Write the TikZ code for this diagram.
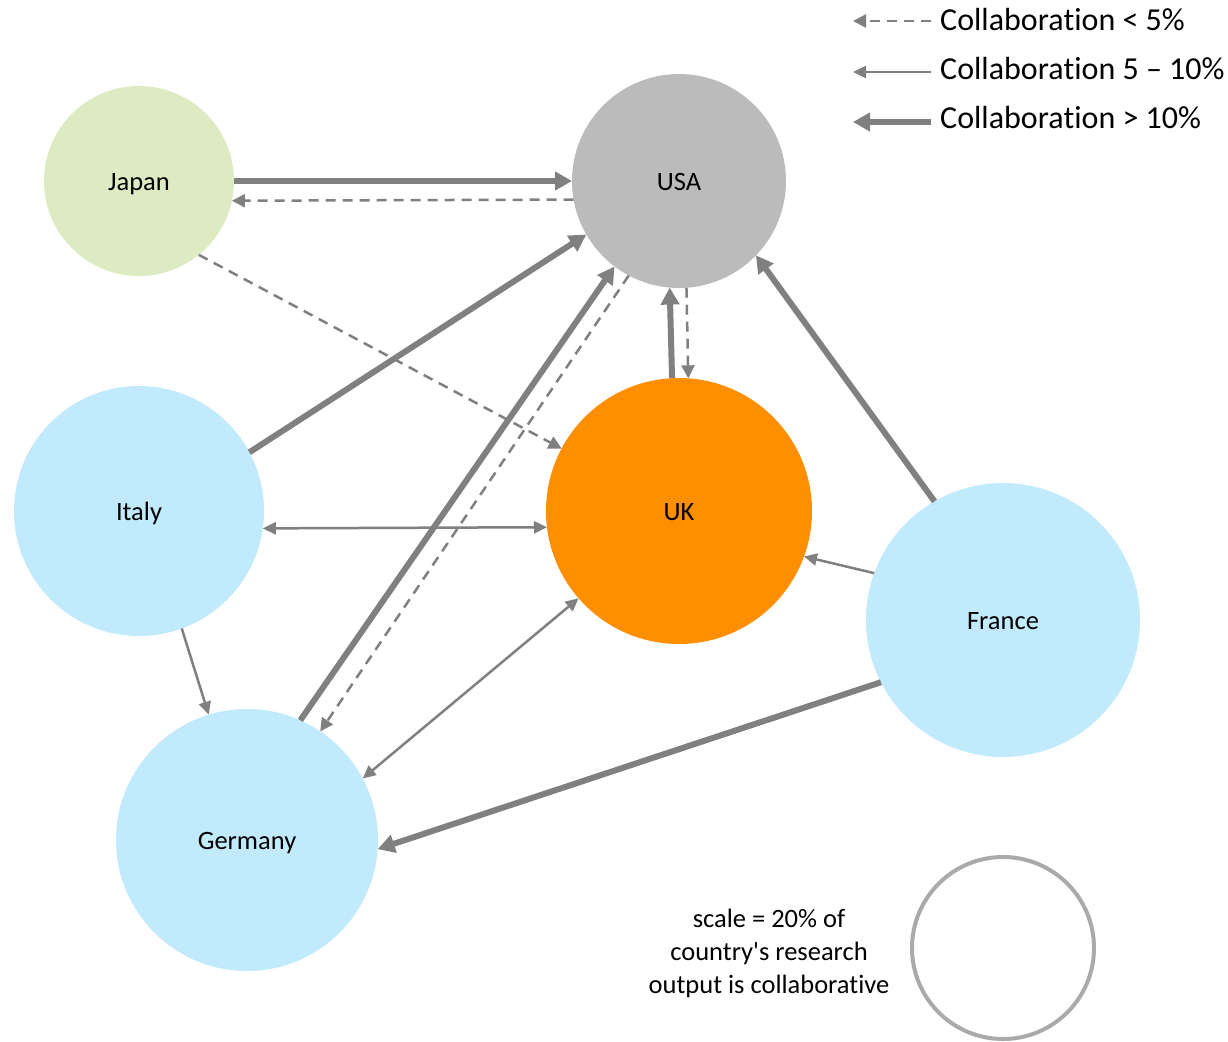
\documentclass[tikz,border=0pt]{standalone}
\usepackage{fontspec}
\setmainfont{Carlito}[Ligatures={NoCommon,NoContextual},Contextuals=NoAlternate]
\usetikzlibrary{arrows.meta}
\definecolor{arr}{HTML}{808080}
\definecolor{jpn}{HTML}{DDEBC2}
\definecolor{usa}{HTML}{BBBBBB}
\definecolor{eur}{HTML}{C2EAFD}
\definecolor{ukc}{HTML}{FF8F00}
\definecolor{scl}{HTML}{AAAAAA}
\newcommand{\collab}{Collabora\kern0pt tion}
\tikzset{
  country/.style={circle,inner sep=0pt,outer sep=0pt,draw=none,text height=21pt,text depth=3pt,font=\fontsize{26.5}{30}\selectfont},
  thickarr/.style={draw=arr,line width=6pt,-{Triangle[length=17pt,width=18pt]}},
  thinarr/.style={draw=arr,line width=2.5pt,-{Triangle[length=13pt,width=12pt]}},
  thinboth/.style={draw=arr,line width=2.5pt,{Triangle[length=13pt,width=12pt]}-{Triangle[length=13pt,width=12pt]}},
  dasharr/.style={draw=arr,line width=2.5pt,dash pattern=on 10pt off 7pt,-{Triangle[length=13pt,width=13pt]}},
  legtext/.style={anchor=west,inner sep=0pt,font=\fontsize{32}{36}\selectfont},
}
\begin{document}
\begin{tikzpicture}[x=1pt,y=-1pt]
\useasboundingbox (0,0) rectangle (1228,1041);
\fill[white] (0,0) rectangle (1228,1041);
% countries
\node[country,fill=jpn,minimum size=190pt] (japan) at (139,181) {Japan};
\node[country,fill=usa,minimum size=214pt] (usa) at (679,181) {USA};
\node[country,fill=eur,minimum size=250pt] (italy) at (139,511) {Italy};
\node[country,fill=ukc,minimum size=266pt] (uk) at (679,511) {UK};
\node[country,fill=eur,minimum size=274pt] (france) at (1003,620) {France};
\node[country,fill=eur,minimum size=262pt] (germany) at (247,840) {Germany};
% connectors
\draw[thickarr] (japan.0) -- (usa.180);
\draw[dasharr] (usa.190.6) -- (japan.-12);
\draw[dasharr] (japan.-51.6) -- (uk.152);
\draw[thickarr] (italy.28.4) -- (usa.210);
\draw[thickarr] (germany.66.3) -- (usa.233.5);
\draw[dasharr] (usa.242.3) -- (germany.56.1);
\draw[thickarr] (uk.93.9) -- (usa.265.2);
\draw[dasharr] (usa.274.8) -- (uk.86.1);
\draw[thickarr] (france.120) -- (usa.-44.6);
\draw[thinboth] (italy.-8.3) -- (uk.187.8);
\draw[thinboth] (germany.28.2) -- (uk.221.9);
\draw[thinarr] (france.160.6) -- (uk.-20.4);
\draw[thinarr] (italy.-70.3) -- (germany.107.7);
\draw[thickarr] (france.207.1) -- (germany.-4.1);
% legend
\coordinate (l1a) at (931,21); \coordinate (l1b) at (853,21);
\coordinate (l2a) at (931,72); \coordinate (l2b) at (853,72);
\coordinate (l3a) at (931,122); \coordinate (l3b) at (853,122);
\draw[dasharr] (l1a) -- (l1b);
\draw[thinarr] (l2a) -- (l2b);
\draw[thickarr,line width=5.5pt] (l3a) -- (l3b);
\node[legtext] (t1) at (940,20) {\collab{} < 5\%};
\node[legtext] (t2) at (940,69) {\collab{} 5 – 10\%};
\node[legtext] (t3) at (940,118) {\collab{} > 10\%};
% scale
\node[circle,draw=scl,line width=4pt,minimum size=182pt,inner sep=0pt] (scale) at (1003,948) {};
\node[align=center,font=\fontsize{26.5}{33}\selectfont,inner sep=0pt] (scaletext) at (769,953) {scale = 20\% of\\country\textquotesingle s research\\output is collaborative};
\end{tikzpicture}
\end{document}
